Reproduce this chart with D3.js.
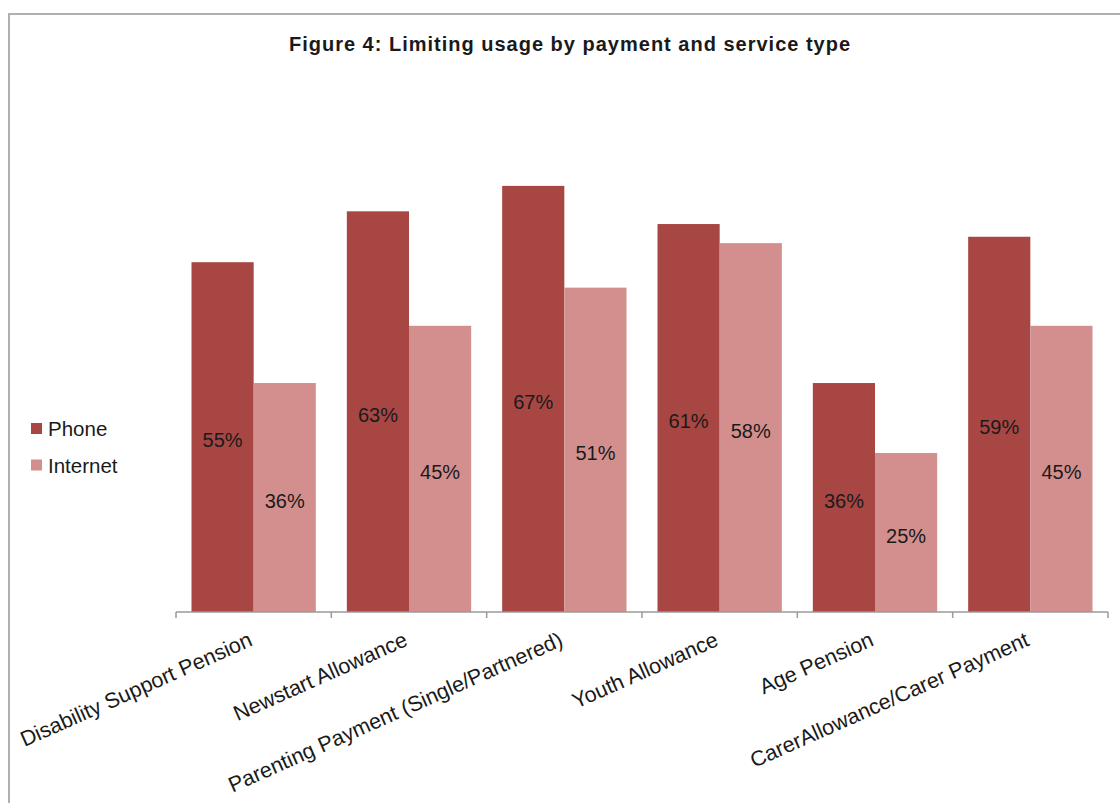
<!DOCTYPE html>
<html>
<head>
<meta charset="utf-8">
<script src="https://cdn.jsdelivr.net/npm/d3@7"></script>
<style>
    body { margin: 0; background: #fff; }
    text { font-family: "Liberation Sans", Arial, sans-serif; fill: #1a1a1a; }
</style>
</head>
<body>
<svg id="chart" width="1120" height="803"></svg>
<script>
const categories = ["Disability Support Pension", "Newstart Allowance", "Parenting Payment (Single/Partnered)",
    "Youth Allowance", "Age Pension", "CarerAllowance/Carer Payment"]
const series = ["Phone", "Internet"]
const phone = [55, 63, 67, 61, 36, 59]
const internet = [36, 45, 51, 58, 25, 45]
const colors = ["#a84644", "#d38f8e"]

const rows = categories.map((c, i) => ({cat: c, values: [phone[i], internet[i]]}))

const svg = d3.select("#chart")

// outer frame
svg.append("rect")
    .attr("x", 9).attr("y", 14)
    .attr("width", 1200).attr("height", 900)
    .attr("fill", "none")
    .style("stroke", "#b0b0b0")
    .style("stroke-width", "2px")

svg.append("text")
    .attr("x", 570)
    .attr("y", 51)
    .attr("text-anchor", "middle")
    .style("font-size", "20px")
    .style("font-weight", "bold")
    .style("letter-spacing", "1px")
    .text("Figure 4: Limiting usage by payment and service type")

const x = d3.scaleBand()
    .domain(categories)
    .range([176, 1108])
    .paddingInner(0)
    .paddingOuter(0)

const inner = d3.scaleBand()
    .domain(series)
    .range([15.5, x.bandwidth() - 15.5])

const y = d3.scaleLinear()
    .domain([0, 80])
    .range([612, 103.2])

const groups = svg.selectAll(".catGroup")
    .data(rows)
    .enter()
    .append("g")
    .attr("class", "catGroup")
    .attr("transform", (d) => {
        return "translate(" + x(d.cat) + ",0)"
    })

const bars = groups.selectAll(".bar")
    .data((d) => d.values.map((v, j) => ({s: series[j], v: v, j: j})))
    .enter()

bars.append("rect")
    .attr("class", "bar")
    .attr("x", (d) => inner(d.s))
    .attr("y", (d) => y(d.v))
    .attr("width", inner.bandwidth())
    .attr("height", (d) => y(0) - y(d.v))
    .attr("fill", (d) => colors[d.j])

bars.append("text")
    .attr("x", (d) => inner(d.s) + inner.bandwidth() / 2)
    .attr("y", (d) => (y(d.v) + y(0)) / 2)
    .attr("dy", "0.5em")
    .attr("text-anchor", "middle")
    .style("font-size", "20px")
    .text((d) => d.v + "%")

// x axis
const axis = svg.append("g")
    .attr("transform", "translate(0," + y(0) + ")")

axis.append("line")
    .attr("x1", 176).attr("x2", 1108)
    .attr("y1", 0).attr("y2", 0)
    .style("stroke", "#9a9a9a")
    .style("stroke-width", "1.5px")

axis.selectAll(".tick")
    .data(categories.concat([null]))
    .enter()
    .append("line")
    .attr("class", "tick")
    .attr("x1", (d) => d === null ? 1108 : x(d))
    .attr("x2", (d) => d === null ? 1108 : x(d))
    .attr("y1", 0).attr("y2", 6)
    .style("stroke", "#9a9a9a")
    .style("stroke-width", "1.5px")

axis.selectAll(".catLabel")
    .data(categories)
    .enter()
    .append("text")
    .attr("class", "catLabel")
    .attr("text-anchor", "end")
    .attr("transform", (d) => {
        return "translate(" + (x(d) + x.bandwidth() / 2) + ",33) rotate(-24)"
    })
    .style("font-size", "21.5px")
    .text((d) => d)

// legend
const legend = svg.selectAll(".legendItem")
    .data(series)
    .enter()
    .append("g")
    .attr("class", "legendItem")
    .attr("transform", (d, i) => "translate(31," + (423 + i * 36.5) + ")")

legend.append("rect")
    .attr("width", 11).attr("height", 11)
    .attr("fill", (d, i) => colors[i])

legend.append("text")
    .attr("x", 17)
    .attr("y", 13)
    .style("font-size", "20.5px")
    .text((d) => d)
</script>
</body>
</html>
